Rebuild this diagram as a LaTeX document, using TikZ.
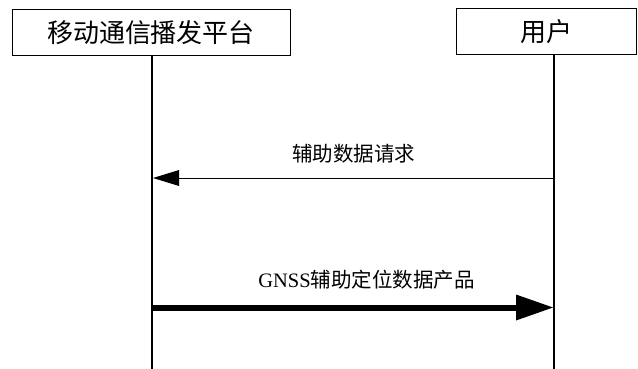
\documentclass[tikz,border=0pt]{standalone}
\usepackage{fontspec}
\setmainfont{Liberation Serif}
\newfontfamily\cjk{Noto Sans CJK SC}
\usetikzlibrary{arrows.meta}
\begin{document}
\begin{tikzpicture}[x=1pt,y=-1pt,
  actor/.style={draw,line width=1pt,minimum height=46pt,inner sep=0pt,
    font=\cjk\fontsize{26}{26}\selectfont},
  life/.style={line width=1.2pt},
  msg/.style={line width=1pt,-{Triangle[length=26pt,width=16pt,line width=0pt]}},
  bigmsg/.style={line width=6pt,-{Triangle[length=37pt,width=26pt,line width=0pt]}},
  lbl/.style={font=\fontsize{20.5}{20.5}\selectfont,inner sep=0pt}]
\useasboundingbox (0,0) rectangle (638,369);
\node[actor,minimum width=278pt] (plat) at (151,33) {移动通信播发平台};
\node[actor,minimum width=180pt] (user) at (546,31.5) {用户};
\coordinate (pTop) at (152,56);
\coordinate (pBot) at (152,369);
\coordinate (uTop) at (554,54);
\coordinate (uBot) at (554,369);
\draw[life] (pTop) -- (pBot);
\draw[life] (uTop) -- (uBot);
\coordinate (m1s) at (554,178);
\coordinate (m1e) at (153,178);
\coordinate (m2s) at (152,307.5);
\coordinate (m2e) at (553,307.5);
\draw[msg] (m1s) -- node[lbl,yshift=24pt]{\cjk 辅助数据请求} (m1e);
\draw[bigmsg] (m2s) -- node[lbl,xshift=14pt,yshift=27.5pt]{GNSS{\cjk 辅助定位数据产品}} (m2e);
\end{tikzpicture}
\end{document}
